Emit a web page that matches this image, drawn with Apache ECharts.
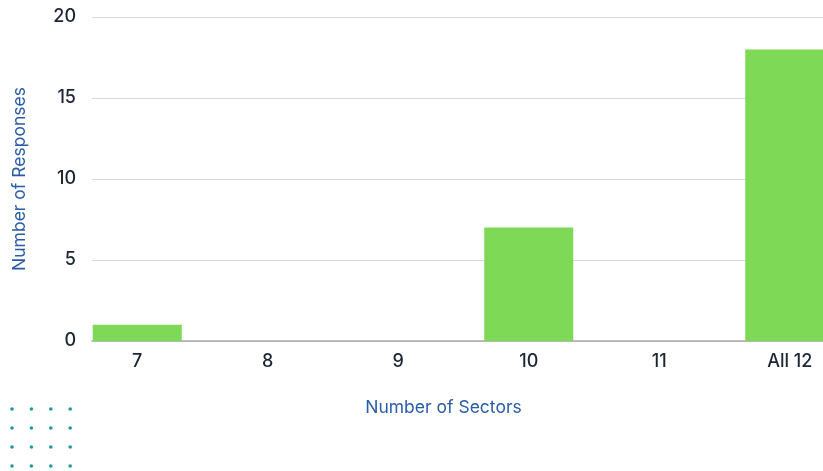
<!DOCTYPE html>
<html>
<head>
<meta charset="utf-8">
<script src="https://cdn.jsdelivr.net/npm/echarts@6/dist/echarts.min.js"></script>
<style>
  html, body { margin: 0; padding: 0; background: #fff; }
  #chart { width: 823px; height: 471px; }
</style>
</head>
<body>
<div id="chart"></div>
<script>
const categories = ['7', '8', '9', '10', '11', 'All 12'];
const responses = [1, 0, 0, 7, 0, 18];
const yTicks = [0, 5, 10, 15, 20];

const chart = echarts.init(document.getElementById('chart'), null, { renderer: 'canvas' });

// decorative dot pattern bottom-left
const dots = [];
for (let r = 0; r < 4; r++) {
  for (let c = 0; c < 4; c++) {
    dots.push({
      type: 'circle',
      shape: { cx: 12 + c * 19.4, cy: 409 + r * 19, r: 1.8 },
      style: { fill: '#1b9a9c' },
      silent: true
    });
  }
}

const FONT = 'Inter';
const option = {
  backgroundColor: '#fff',
  animation: false,
  grid: [
    // grid for bars (category bands), runs past the right edge like the reference
    { left: 72, top: 17, width: 783, height: 324, outerBoundsMode: 'none', containLabel: false },
    // grid for the value axis / gridlines
    { left: 92, top: 17, right: 0, height: 324, outerBoundsMode: 'none' }
  ],
  xAxis: [
    {
      type: 'category', gridIndex: 0, data: categories,
      axisLine: { show: false }, axisTick: { show: false },
      axisLabel: { color: '#1c2633', fontSize: 18, fontWeight: 500, fontFamily: FONT, margin: 12 }
    },
    {
      type: 'value', gridIndex: 1, min: 0, max: 1,
      axisLine: { show: true, onZero: false, lineStyle: { color: '#a9a9a9', width: 1.5 } },
      axisTick: { show: false }, axisLabel: { show: false }, splitLine: { show: false },
      name: 'Number of Sectors', nameLocation: 'middle', nameGap: 58,
      nameTextStyle: { color: '#2a5ca8', fontSize: 17.5, fontFamily: FONT, padding: [0, 28, 0, 0] },
      position: 'bottom'
    }
  ],
  yAxis: [
    { type: 'value', gridIndex: 0, min: 0, max: 20, show: false },
    {
      type: 'value', gridIndex: 1, min: 0, max: 20, interval: 5,
      axisLine: { show: false }, axisTick: { show: false },
      axisLabel: {
        color: '#1c2633', fontSize: 18, fontWeight: 500, fontFamily: FONT, margin: 16,
        formatter: v => (yTicks.includes(v) ? String(v) : '')
      },
      splitLine: { lineStyle: { color: '#d9d9d9', width: 1 } },
      name: 'Number of Responses', nameLocation: 'middle', nameGap: 63,
      nameTextStyle: { color: '#2a5ca8', fontSize: 17.5, fontFamily: FONT }
    }
  ],
  series: [
    {
      type: 'bar', xAxisIndex: 0, yAxisIndex: 0,
      data: responses,
      barWidth: 89,
      itemStyle: { color: '#7ed957' },
      z: 3
    }
  ],
  graphic: dots
};

chart.setOption(option);
</script>
</body>
</html>
